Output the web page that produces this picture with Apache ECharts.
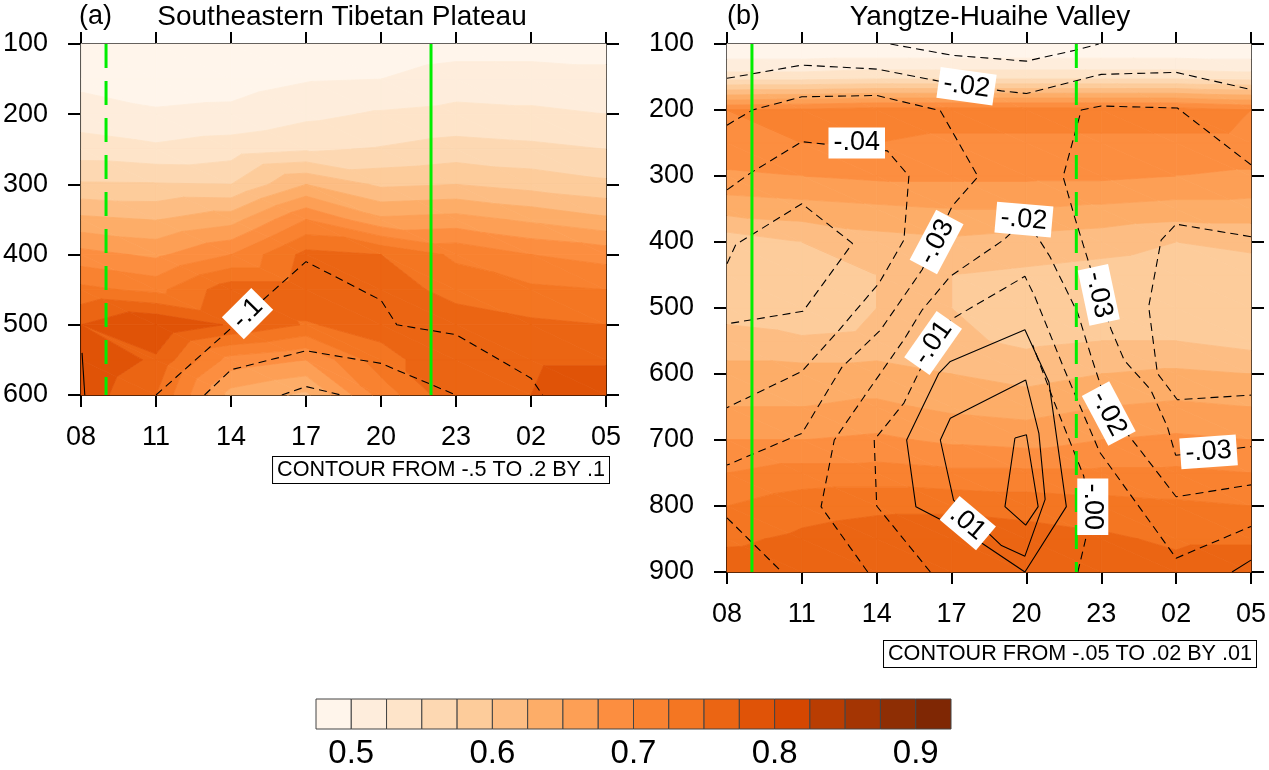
<!DOCTYPE html>
<html>
<head>
<meta charset="utf-8">
<script src="https://cdn.jsdelivr.net/npm/echarts@6/dist/echarts.min.js"></script>
<style>
html, body { margin: 0; padding: 0; background: #fff; }
#main { width: 1269px; height: 770px; }
</style>
</head>
<body>
<div id="main"></div>
<script>
// hours after 08 LT, 3-hourly
var hours = [0, 3, 6, 9, 12, 15, 18, 21];
var hourLabels = ['08', '11', '14', '17', '20', '23', '02', '05'];
var presA = [100, 150, 200, 250, 300, 350, 400, 450, 500, 550, 600];
var presB = [100, 150, 200, 250, 300, 350, 400, 450, 500, 550, 600, 650, 700, 750, 800, 850, 900];

// shaded field, rows = pressure levels, cols = hours
var fillA = [
  [0.485, 0.480, 0.480, 0.485, 0.485, 0.490, 0.490, 0.490],
  [0.493, 0.488, 0.489, 0.498, 0.500, 0.510, 0.510, 0.507],
  [0.512, 0.503, 0.506, 0.519, 0.528, 0.533, 0.530, 0.525],
  [0.537, 0.530, 0.538, 0.547, 0.552, 0.560, 0.556, 0.550],
  [0.578, 0.577, 0.575, 0.625, 0.595, 0.600, 0.590, 0.580],
  [0.631, 0.624, 0.640, 0.700, 0.655, 0.660, 0.645, 0.630],
  [0.684, 0.670, 0.700, 0.758, 0.750, 0.720, 0.700, 0.690],
  [0.732, 0.718, 0.765, 0.765, 0.765, 0.740, 0.730, 0.725],
  [0.775, 0.800, 0.772, 0.748, 0.760, 0.765, 0.755, 0.750],
  [0.798, 0.770, 0.690, 0.675, 0.740, 0.770, 0.770, 0.770],
  [0.790, 0.750, 0.640, 0.620, 0.710, 0.770, 0.775, 0.800]
];
var fillB = [
  [0.470, 0.470, 0.470, 0.470, 0.470, 0.470, 0.470, 0.470],
  [0.535, 0.535, 0.540, 0.540, 0.540, 0.540, 0.540, 0.535],
  [0.700, 0.705, 0.712, 0.712, 0.712, 0.712, 0.712, 0.700],
  [0.695, 0.700, 0.700, 0.695, 0.695, 0.695, 0.695, 0.695],
  [0.670, 0.675, 0.680, 0.680, 0.680, 0.680, 0.675, 0.670],
  [0.635, 0.640, 0.645, 0.650, 0.650, 0.645, 0.640, 0.640],
  [0.585, 0.600, 0.615, 0.620, 0.615, 0.610, 0.600, 0.605],
  [0.585, 0.590, 0.600, 0.600, 0.595, 0.590, 0.585, 0.590],
  [0.590, 0.575, 0.600, 0.600, 0.585, 0.585, 0.580, 0.580],
  [0.610, 0.605, 0.610, 0.605, 0.595, 0.600, 0.600, 0.590],
  [0.635, 0.635, 0.635, 0.625, 0.615, 0.625, 0.630, 0.625],
  [0.650, 0.650, 0.655, 0.645, 0.640, 0.650, 0.655, 0.650],
  [0.675, 0.675, 0.680, 0.670, 0.665, 0.675, 0.680, 0.675],
  [0.700, 0.710, 0.710, 0.705, 0.705, 0.705, 0.705, 0.700],
  [0.725, 0.740, 0.745, 0.745, 0.740, 0.735, 0.730, 0.725],
  [0.745, 0.755, 0.762, 0.765, 0.762, 0.755, 0.745, 0.745],
  [0.765, 0.768, 0.770, 0.770, 0.770, 0.768, 0.760, 0.772]
];

var bounds = [0.5, 0.525, 0.55, 0.575, 0.6, 0.625, 0.65, 0.675, 0.7, 0.725, 0.75, 0.775, 0.8, 0.825, 0.85, 0.875, 0.9];
var colors = ['#fff5eb', '#feeddc', '#fee4c9', '#fdd8b2', '#fdcc9b', '#fdbd83', '#fdad68', '#fd9f55',
              '#fc8e40', '#f98230', '#f47622', '#eb6513', '#e05307', '#d54701', '#b93d02', '#a43503', '#8e2e04', '#7f2704'];
var cbLabels = [0.5, 0.6, 0.7, 0.8, 0.9];

// contour lines [hour, hPa]
var linesA = [
  [[3, 600], [9, 410], [12, 465], [12.63, 500], [15, 514], [18, 576], [18.46, 600]],
  [[4.94, 600], [6, 564], [9, 537], [12, 555], [15, 600]],
  [[8.03, 600], [9, 588], [10.4, 600]],
  [[0.04, 540], [0.15, 600]]
];
var dashA = [true, true, true, false];
var labelsA = [[6.66, 484, '-.1']];
var anglesA = [45];

var linesB = [
  [[6.55, 100], [9, 117], [12, 126], [14, 109], [14.9, 100]],
  [[0, 152], [3, 132], [6, 138], [8.6, 157], [11, 171], [12, 175], [15, 146], [18, 143], [21, 169]],
  [[0, 223], [1.02, 200], [3, 180], [6, 178], [8.55, 201], [10.06, 301], [9.02, 346], [7.82, 442], [6.16, 533], [4.6, 590], [3, 690], [0, 738]],
  [[0, 321], [0.92, 296], [3, 248], [6.43, 262], [7.29, 300], [7.09, 397], [6.1, 462], [4.5, 533], [3, 596], [0, 651]],
  [[0, 433], [0.35, 404], [3, 342], [5.03, 402], [3.05, 505], [0, 524]],
  [[0, 818], [2.2, 900]],
  [[5.64, 900], [3.77, 801], [4.3, 700], [5.5, 634], [7.09, 548], [7.82, 503], [8.95, 452], [11.08, 397], [11.9, 368], [12.47, 394], [12.94, 422], [14.06, 508], [14.6, 574], [15.3, 655], [16.45, 710], [18, 786], [21, 768]],
  [[8.15, 900], [6.0, 800], [5.9, 700], [7.09, 644], [8.26, 553], [8.95, 518], [11.94, 452], [12.34, 483], [13.53, 594], [14.93, 718], [18, 879], [21, 831]],
  [[21, 283], [18.05, 197], [15, 194], [14.2, 200], [13.47, 301], [13.93, 362], [14.9, 480], [15.4, 533], [15.92, 579], [16.98, 624], [17.65, 680], [17.98, 723], [19.3, 718], [21, 710]],
  [[21, 392], [18, 373], [17.4, 397], [16.9, 498], [17.25, 599], [18.05, 639], [21, 632]],
  [[14.06, 900], [14.4, 846], [14.45, 800], [14.3, 755], [13.13, 644], [12.25, 556]],
  [[11.94, 900], [9.65, 842], [7.57, 801], [7.2, 700], [8.49, 599], [8.95, 581], [11.94, 533], [12.9, 612], [13.6, 801], [11.94, 900]],
  [[11.97, 609], [8.95, 667], [8.55, 700], [9.08, 791], [11.0, 860], [11.94, 876], [12.75, 790], [12.5, 690], [11.97, 609]],
  [[11.54, 697], [12.0, 692], [12.47, 801], [11.97, 829], [11.14, 801], [11.54, 697]],
  [[20.24, 900], [21, 882]]
];
var dashB = [true, true, true, true, true, true, true, true, true, true, true, false, false, false, false];
var labelsB = [
  [9.6, 164, '-.02'], [5.2, 250, '-.04'], [8.4, 400, '-.03'], [11.9, 366, '-.02'], [8.26, 553, '-.01'],
  [14.9, 480, '-.03'], [15.3, 660, '-.02'], [19.3, 718, '-.03'], [9.65, 826, '.01'], [14.66, 801, '-.00']
];
var anglesB = [-8, 0, 62, -5, 55, -78, -62, 4, -40, -90];

// green markers (hour)
var greenA = { dashed: 1, solid: 14 };
var greenB = { solid: 1, dashed: 14 };

var FONT = 'Liberation Sans';

function bandOf(v) {
  var k = 0;
  while (k < bounds.length && v >= bounds[k]) k++;
  return k;
}

function clipPoly(poly, lev, above) {
  var out = [];
  for (var i = 0; i < poly.length; i++) {
    var a = poly[i], b = poly[(i + 1) % poly.length];
    var ina = above ? a[2] >= lev : a[2] <= lev;
    var inb = above ? b[2] >= lev : b[2] <= lev;
    if (ina) out.push(a);
    if (ina !== inb) {
      var t = (lev - a[2]) / (b[2] - a[2]);
      out.push([a[0] + t * (b[0] - a[0]), a[1] + t * (b[1] - a[1]), lev]);
    }
  }
  return out;
}

function cellItems(t, p, grid) {
  var items = [];
  for (var j = 0; j < p.length - 1; j++) {
    for (var i = 0; i < t.length - 1; i++) {
      items.push([t[i], p[j], t[i + 1], p[j + 1], grid[j][i], grid[j][i + 1], grid[j + 1][i], grid[j + 1][i + 1]]);
    }
  }
  return items;
}

function renderFill(params, api) {
  var x0 = api.value(0), y0 = api.value(1), x1 = api.value(2), y1 = api.value(3);
  var a = api.coord([x0, y0]), b = api.coord([x1, y0]), c = api.coord([x0, y1]), d = api.coord([x1, y1]);
  var va = api.value(4), vb = api.value(5), vc = api.value(6), vd = api.value(7);
  var tris = [
    [[a[0], a[1], va], [b[0], b[1], vb], [d[0], d[1], vd]],
    [[a[0], a[1], va], [d[0], d[1], vd], [c[0], c[1], vc]]
  ];
  var children = [];
  tris.forEach(function (tri) {
    var vs = [tri[0][2], tri[1][2], tri[2][2]];
    var k0 = bandOf(Math.min.apply(null, vs)), k1 = bandOf(Math.max.apply(null, vs));
    for (var k = k0; k <= k1; k++) {
      var poly = tri;
      if (k > 0) poly = clipPoly(poly, bounds[k - 1], true);
      if (k < bounds.length) poly = clipPoly(poly, bounds[k], false);
      if (poly.length < 3) continue;
      children.push({
        type: 'polygon',
        shape: { points: poly.map(function (q) { return [q[0], q[1]]; }) },
        style: { fill: colors[k], stroke: colors[k], lineWidth: 0.8 }
      });
    }
  });
  return { type: 'group', children: children };
}

function renderBar(params, api) {
  var p0 = api.coord([api.value(0), 1]);
  var p1 = api.coord([api.value(1), 0]);
  return {
    type: 'rect',
    shape: { x: p0[0], y: p0[1], width: p1[0] - p0[0], height: p1[1] - p0[1] },
    style: { fill: colors[api.value(2)], stroke: '#444', lineWidth: 1 }
  };
}

function makeLabelRenderer(labels, angles) {
  return function (params, api) {
    var pt = api.coord([api.value(0), api.value(1)]);
    return {
      type: 'text', x: pt[0], y: pt[1], rotation: angles[params.dataIndex] * Math.PI / 180,
      style: {
        text: labels[params.dataIndex][2], fontSize: 27, fontFamily: FONT, fill: '#000',
        align: 'center', verticalAlign: 'middle', backgroundColor: '#fff', padding: [3, 5, 1, 5]
      }
    };
  };
}

function xAxes(grid, bottom) {
  return {
    type: 'value', gridIndex: grid, min: 0, max: 21, interval: 3,
    position: bottom ? 'bottom' : 'top',
    axisLine: { onZero: false, lineStyle: { color: '#000', width: 2 } },
    axisTick: { length: 12, lineStyle: { color: '#000', width: 2 } },
    axisLabel: {
      show: bottom, fontSize: 27, fontFamily: FONT, color: '#000', margin: 29,
      formatter: function (v) { return hourLabels[Math.round(v / 3)]; }
    },
    splitLine: { show: false }
  };
}

function yAxes(grid, max, left) {
  return {
    type: 'value', gridIndex: grid, min: 100, max: max, interval: 100, inverse: true,
    position: left ? 'left' : 'right',
    axisLine: { onZero: false, lineStyle: { color: '#000', width: 2 } },
    axisTick: { length: 13, lineStyle: { color: '#000', width: 2 } },
    axisLabel: { show: left, fontSize: 27, fontFamily: FONT, color: '#000', margin: 33 },
    splitLine: { show: false }
  };
}

function contourSeries(lines, dashes, xi, yi) {
  return lines.map(function (pts, i) {
    return {
      type: 'line', xAxisIndex: xi, yAxisIndex: yi, data: pts,
      symbol: 'none', silent: true, z: 3,
      lineStyle: { color: '#000', width: 1.1, type: dashes[i] ? [8, 5] : 'solid' }
    };
  });
}

function labelSeries(labels, angles, xi, yi) {
  return {
    type: 'custom', xAxisIndex: xi, yAxisIndex: yi, z: 6, silent: true,
    renderItem: makeLabelRenderer(labels, angles),
    data: labels.map(function (l) { return [l[0], l[1]]; })
  };
}

function greenSeries(h, maxP, dashed, xi, yi) {
  return {
    type: 'line', xAxisIndex: xi, yAxisIndex: yi, data: [[h, 100], [h, maxP]],
    symbol: 'none', silent: true, z: 5,
    lineStyle: { color: '#00ee00', width: 3, type: dashed ? [24, 13] : 'solid' }
  };
}

var cbEdges = [0.475].concat(bounds).concat([0.925]);
var cbData = [];
for (var k = 0; k < colors.length; k++) cbData.push([cbEdges[k], cbEdges[k + 1], k]);

var series = [
  { type: 'custom', xAxisIndex: 0, yAxisIndex: 0, renderItem: renderFill, data: cellItems(hours, presA, fillA), silent: true, z: 1 },
  { type: 'custom', xAxisIndex: 2, yAxisIndex: 2, renderItem: renderFill, data: cellItems(hours, presB, fillB), silent: true, z: 1 },
  { type: 'custom', xAxisIndex: 4, yAxisIndex: 4, renderItem: renderBar, data: cbData, silent: true, z: 1 }
]
  .concat(contourSeries(linesA, dashA, 0, 0))
  .concat(contourSeries(linesB, dashB, 2, 2))
  .concat([
    greenSeries(greenA.dashed, 600, true, 0, 0),
    greenSeries(greenA.solid, 600, false, 0, 0),
    greenSeries(greenB.solid, 900, false, 2, 2),
    greenSeries(greenB.dashed, 900, true, 2, 2),
    labelSeries(labelsA, anglesA, 0, 0),
    labelSeries(labelsB, anglesB, 2, 2)
  ]);

var option = {
  animation: false,
  backgroundColor: '#fff',
  grid: [
    { left: 79, top: 44, width: 527, height: 351 },
    { left: 727, top: 44, width: 527, height: 528 },
    { left: 316, top: 699, width: 635, height: 35 }
  ],
  xAxis: [
    xAxes(0, true), xAxes(0, false), xAxes(1, true), xAxes(1, false),
    {
      type: 'value', gridIndex: 2, min: 0.475, max: 0.925,
      axisLine: { show: false }, axisTick: { show: false }, splitLine: { show: false },
      axisLabel: { customValues: cbLabels, fontSize: 33, fontFamily: FONT, color: '#000', margin: 8 }
    }
  ],
  yAxis: [
    yAxes(0, 600, true), yAxes(0, 600, false), yAxes(1, 900, true), yAxes(1, 900, false),
    { type: 'value', gridIndex: 2, min: 0, max: 1, show: false }
  ],
  graphic: [
    { type: 'text', x: 79, y: 3, style: { text: '(a)', fontSize: 27, fontFamily: FONT, fill: '#000' } },
    { type: 'text', x: 342, y: 3, style: { text: 'Southeastern Tibetan Plateau', fontSize: 28, fontFamily: FONT, fill: '#000', align: 'center' } },
    { type: 'text', x: 727, y: 3, style: { text: '(b)', fontSize: 27, fontFamily: FONT, fill: '#000' } },
    { type: 'text', x: 990, y: 3, style: { text: 'Yangtze-Huaihe Valley', fontSize: 28, fontFamily: FONT, fill: '#000', align: 'center' } },
    {
      type: 'text', x: 609, y: 470, style: {
        text: 'CONTOUR FROM -.5 TO .2 BY .1', fontSize: 21.6, fontFamily: FONT, fill: '#000',
        align: 'right', verticalAlign: 'middle', backgroundColor: '#fff', borderColor: '#000', borderWidth: 1, padding: [3, 4, 1, 4]
      }
    },
    {
      type: 'text', x: 1256, y: 654, style: {
        text: 'CONTOUR FROM -.05 TO .02 BY .01', fontSize: 21.6, fontFamily: FONT, fill: '#000',
        align: 'right', verticalAlign: 'middle', backgroundColor: '#fff', borderColor: '#000', borderWidth: 1, padding: [3, 4, 1, 4]
      }
    }
  ],
  series: series
};

var chart = echarts.init(document.getElementById('main'));
chart.setOption(option);
window.addEventListener('resize', function () {
  chart.resize();
});
</script>
</body>
</html>
